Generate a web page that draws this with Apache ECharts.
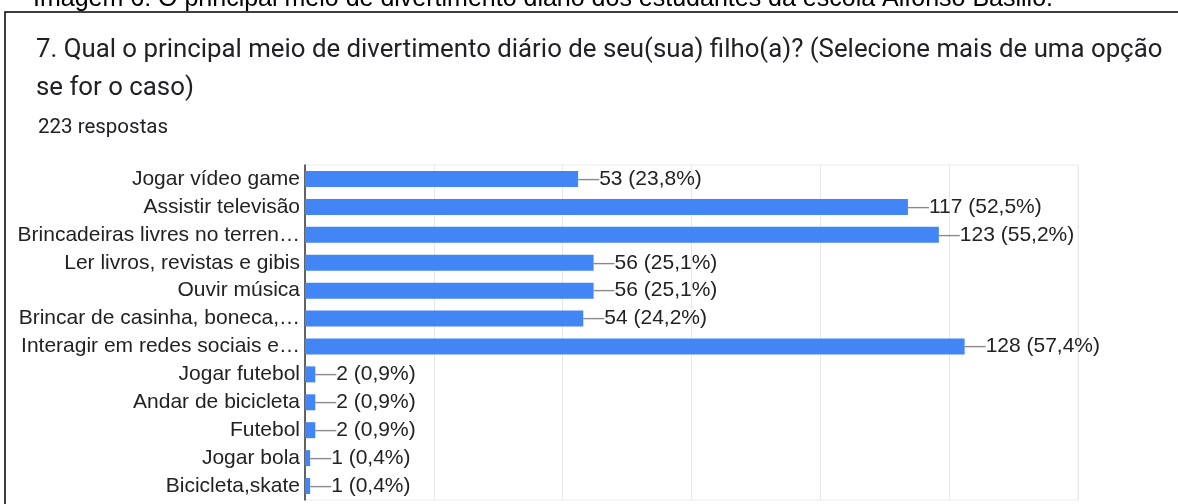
<!DOCTYPE html>
<html>
<head>
<meta charset="utf-8">
<script src="https://cdn.jsdelivr.net/npm/echarts@6/dist/echarts.min.js"></script>
<style>
  html, body { margin: 0; padding: 0; background: #fff; }
  #my_chart { width: 1178px; height: 504px; }
</style>
</head>
<body>
<div id="my_chart"></div>
<script>
// dados
var categorias = ['Jogar vídeo game', 'Assistir televisão', 'Brincadeiras livres no terren…',
    'Ler livros, revistas e gibis', 'Ouvir música', 'Brincar de casinha, boneca,…',
    'Interagir em redes sociais e…', 'Jogar futebol', 'Andar de bicicleta', 'Futebol',
    'Jogar bola', 'Bicicleta,skate'];
var respostas = [53, 117, 123, 56, 56, 54, 128, 2, 2, 2, 1, 1];
var percentuais = ['23,8', '52,5', '55,2', '25,1', '25,1', '24,2', '57,4', '0,9', '0,9', '0,9', '0,4', '0,4'];

var fonteArial = '"Liberation Sans", Arial, sans-serif';
var myChart = echarts.init(document.getElementById('my_chart'));

var option = {
    backgroundColor: '#fff',
    animation: false,
    title: [{
        text: '7. Qual o principal meio de divertimento diário de seu(sua) filho(a)? (Selecione mais de uma opção\nse for o caso)',
        left: 31,
        top: 27,
        textStyle: { fontFamily: 'Roboto', fontSize: 25.8, fontWeight: 'normal', color: '#202124', lineHeight: 38 }
    }, {
        text: '223 respostas',
        left: 33,
        top: 112,
        textStyle: { fontFamily: 'Roboto', fontSize: 20.5, fontWeight: 'normal', color: '#202124' }
    }],
    graphic: [{
        type: 'rect',
        shape: { x: 5, y: 12, width: 1300, height: 700 },
        style: { fill: 'none', stroke: '#000', lineWidth: 1.5 },
        silent: true
    }, {
        type: 'text',
        x: 543,
        y: -1,
        style: {
            text: 'Imagem 6: O principal meio de divertimento diário dos estudantes da escola Alfonso Basilio.',
            font: '25px "Liberation Sans", Arial, sans-serif',
            fill: '#000',
            align: 'center',
            verticalAlign: 'middle'
        },
        silent: true
    }],
    grid: {
        left: 305,
        right: 100,
        top: 165,
        bottom: 4,
        show: true,
        borderColor: '#ebebeb',
        borderWidth: 1
    },
    xAxis: {
        type: 'value',
        min: 0,
        max: 150,
        interval: 25,
        axisLabel: { show: false },
        axisLine: { show: false },
        axisTick: { show: false },
        splitLine: { lineStyle: { color: '#e8e8e8', width: 1 } }
    },
    yAxis: {
        type: 'category',
        data: categorias,
        inverse: true,
        axisTick: { show: false },
        axisLine: { lineStyle: { color: '#333', width: 1.5 } },
        axisLabel: {
            margin: 5,
            fontFamily: fonteArial,
            fontSize: 21,
            color: '#222'
        }
    },
    series: [{
        type: 'bar',
        data: respostas,
        barWidth: 16,
        itemStyle: { color: '#4285f4' },
        label: {
            show: true,
            position: 'right',
            distance: 0,
            formatter: function (p) {
                return '{d|—}{v|' + p.value + ' (' + percentuais[p.dataIndex] + '%)}';
            },
            rich: {
                d: { color: '#8a8a8a', fontFamily: fonteArial, fontSize: 21 },
                v: { color: '#222', fontFamily: fonteArial, fontSize: 21 }
            }
        }
    }]
};

myChart.setOption(option);
</script>
</body>
</html>
